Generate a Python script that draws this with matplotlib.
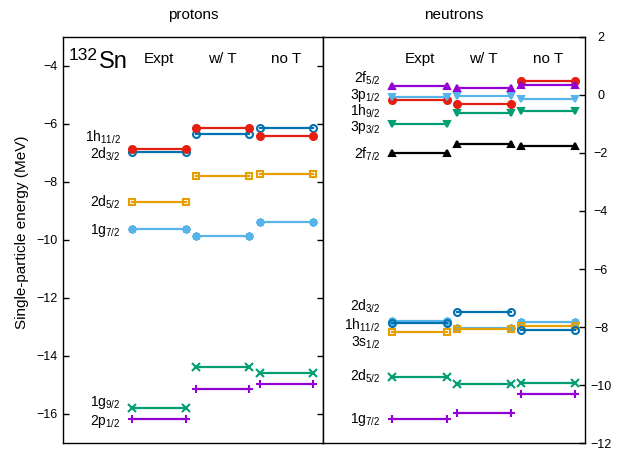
import matplotlib
matplotlib.use('Agg')
import matplotlib.pyplot as plt

plt.rcParams['font.family'] = ['Liberation Sans', 'DejaVu Sans']
plt.rcParams['mathtext.fontset'] = 'custom'
plt.rcParams['mathtext.rm'] = 'Liberation Sans'
plt.rcParams['mathtext.it'] = 'Liberation Sans:italic'

columns = ['Expt', 'w/ T', 'no T']

# protons (MeV)
p_states = ['2p', '1g', '1g', '2d', '2d', '1h']
p_j = ['1/2', '9/2', '7/2', '5/2', '3/2', '11/2']
p_expt = [-16.16, -15.78, -9.63, -8.70, -6.96, -6.86]
p_wT = [-15.15, -14.37, -9.86, -7.78, -6.33, -6.15]
p_noT = [-14.98, -14.58, -9.37, -7.73, -6.15, -6.41]
p_label_y = [-16.38, -15.74, -9.78, -8.85, -7.18, -6.60]

# neutrons (MeV)
n_states = ['1g', '2d', '2d', '3s', '1h', '1h', '2f', '3p', '3p', '2f']
n_j = ['7/2', '5/2', '3/2', '1/2', '11/2', '9/2', '7/2', '3/2', '1/2', '5/2']
n_expt = [-11.16, -9.71, -7.78, -8.16, -7.85, -0.18, -2.01, -1.01, -0.08, 0.32]
n_wT = [-10.96, -9.96, -8.04, -8.07, -7.49, -0.32, -1.70, -0.62, -0.02, 0.23]
n_noT = [-10.31, -9.92, -7.83, -7.97, -8.10, 0.49, -1.75, -0.54, -0.15, 0.34]
n_label_y = [-11.30, -9.85, -7.45, -8.68, -8.08, -0.72, -2.18, -1.23, -0.15, 0.42]

purple, green, lblue, orange = '#9400d3', '#009e73', '#56b4e9', '#e69f00'
blue, red, black = '#0072b2', '#e51e10', 'black'
star = (8, 2, 0)
p_style = [(purple, '+', True), (green, 'x', True), (lblue, star, True),
           (orange, 's', False), (blue, 'o', False), (red, 'o', True)]
n_style = [(purple, '+', True), (green, 'x', True), (lblue, star, True),
           (orange, 's', False), (blue, 'o', False), (red, 'o', True),
           (black, '^', True), (green, 'v', True), (lblue, 'v', True),
           (purple, '^', True)]

col_x0 = [0.265, 0.51, 0.756]
col_w = 0.207

fig = plt.figure(figsize=(6.23, 4.67), dpi=100)
ax1 = fig.add_axes([63/623, 1-443/467, 260/623, 406/467])
ax2 = fig.add_axes([323/623, 1-443/467, 262/623, 406/467])


def draw(ax, states, js, data, label_y, styles, label_x):
    for i, (st, j) in enumerate(zip(states, js)):
        c, m, filled = styles[i]
        ms = 6 if m in ('+', 'x', star) else 5
        for k, vals in enumerate(data):
            x0 = col_x0[k]
            ax.plot([x0, x0 + col_w], [vals[i], vals[i]], color=c, lw=1.6,
                    marker=m, ms=ms, mew=1.5,
                    mfc=c if filled else 'none', mec=c)
        ax.text(label_x, label_y[i], st + r'$_{\mathregular{' + j + '}}$',
                ha='right', va='baseline', fontsize=10,
                transform=ax.get_yaxis_transform())
    for k, name in enumerate(columns):
        ax.text(col_x0[k] + col_w/2, 0.946, name, ha='center', va='center',
                fontsize=11, transform=ax.transAxes)
    ax.set_xlim(0, 1)
    ax.set_xticks([])


draw(ax1, p_states, p_j, [p_expt, p_wT, p_noT], p_label_y, p_style, 0.223)
draw(ax2, n_states, n_j, [n_expt, n_wT, n_noT], n_label_y, n_style, 0.219)

ax1.set_ylim(-17, -3)
ax1.set_yticks(range(-16, -3, 2))
ax1.tick_params(axis='y', direction='in', right=True, length=4, width=1,
                labelsize=9, pad=4)
ax1.set_title('protons', fontsize=11, pad=13)
ax1.text(0.020, 0.974, '132', fontsize=12.5, ha='left', va='top',
         transform=ax1.transAxes)
ax1.text(0.138, 0.923, 'Sn', fontsize=17, ha='left', va='baseline',
         transform=ax1.transAxes)

ax2.set_ylim(-12, 2)
ax2.set_yticks(range(-12, 3, 2))
ax2.yaxis.tick_right()
ax2.tick_params(axis='y', direction='in', left=False, right=True, length=4,
                width=1, labelsize=9, pad=11.5)
for lbl in ax2.get_yticklabels():
    lbl.set_horizontalalignment('center')
ax2.set_title('neutrons', fontsize=11, pad=13)

for ax in (ax1, ax2):
    for s in ax.spines.values():
        s.set_linewidth(1.0)

fig.text(22/623, 0.502, 'Single-particle energy (MeV)', rotation=90,
         ha='center', va='center', fontsize=11)

fig.savefig('out.png', dpi=100)
